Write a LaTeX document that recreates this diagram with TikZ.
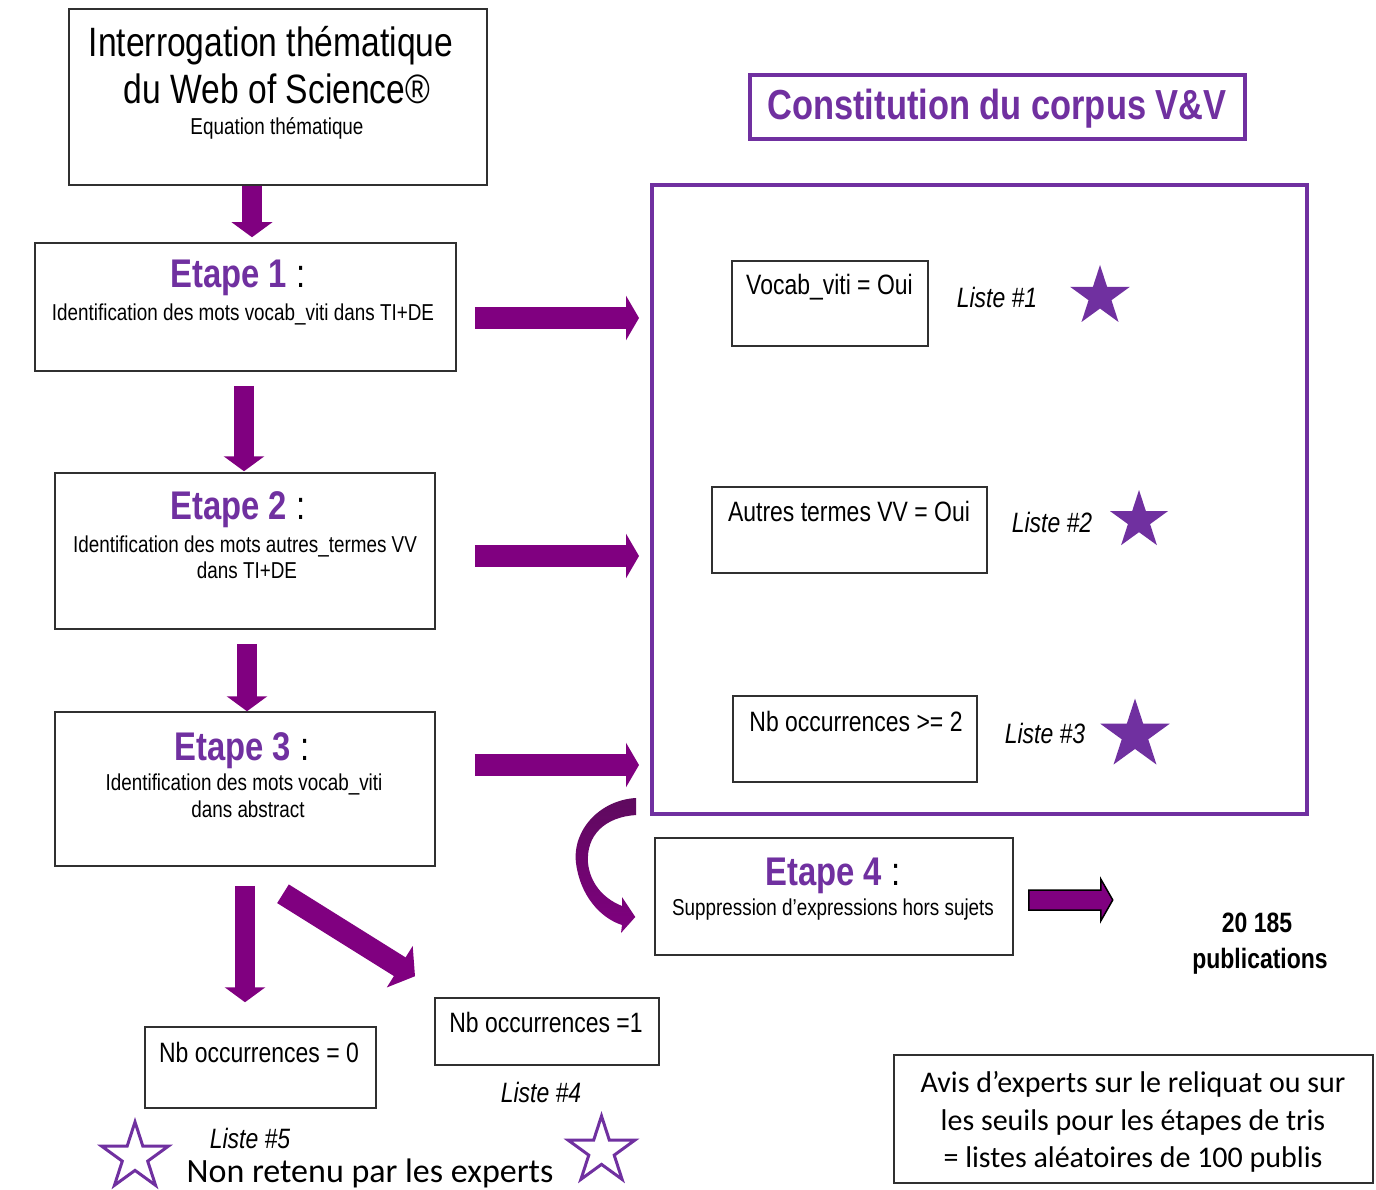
\documentclass[tikz,border=0pt]{standalone}
\usepackage{fontspec}
\setmainfont{Liberation Sans}[FakeStretch=0.82]
\newfontfamily\calfont{Carlito}
\usetikzlibrary{arrows.meta,shapes.geometric,calc}
\definecolor{arrowpurple}{HTML}{800080}
\definecolor{arrowdark}{HTML}{5E0A5E}
\definecolor{titlepurple}{HTML}{7030A0}
\definecolor{boxline}{HTML}{303030}
\newcommand\fsz[1]{\fontsize{#1}{#1}\selectfont}
\newcommand\etape[1]{{\color{titlepurple}\bfseries Etape #1} :}
\begin{document}
\begin{tikzpicture}[x=1pt,y=-1pt,
  box/.style={draw=boxline, line width=1.5pt, inner sep=0pt, rectangle},
  frame/.style={draw=titlepurple, line width=4pt, inner sep=0pt, rectangle},
  txt/.style={inner sep=0pt, anchor=base},
  small/.style={txt, font=\fsz{23}},
  mid/.style={txt, font=\fsz{28}},
  lst/.style={txt, font=\fsz{28}\itshape},
  big/.style={txt, font=\fsz{40}},
  varrow/.style={draw=arrowpurple, line width=20pt, -{Triangle[width=40pt,length=15pt]}},
  harrow/.style={draw=arrowpurple, line width=22pt, -{Triangle[width=44pt,length=13pt]}},
  darrow/.style={draw=arrowpurple, line width=22pt, -{Triangle[width=48pt,length=18pt]}},
  curvearrow/.style={top color=arrowdark, bottom color=arrowpurple, draw=none},
  fstar/.style={star, star points=5, star point ratio=2.618, inner sep=0pt, fill=titlepurple, draw=none},
  ostar/.style={star, star points=5, star point ratio=2.618, inner sep=0pt, draw=titlepurple, line width=3pt, fill=white},
  outarrow/.style={draw=black, line width=1.5pt, fill=arrowpurple, line join=miter}
]
\useasboundingbox (0,0) rectangle (1376,1190);
\fill[white] (0,0) rectangle (1376,1190);

% ---- boxes
\node[box, minimum width=418, minimum height=176] (q) at (278,97) {};
\node[box, minimum width=421, minimum height=128] (e1) at (245.5,307) {};
\node[box, minimum width=380, minimum height=156] (e2) at (245,551) {};
\node[box, minimum width=380, minimum height=154] (e3) at (245,789) {};
\node[box, minimum width=231, minimum height=81] (n0) at (260.5,1067.5) {};
\node[box, minimum width=224, minimum height=67] (n1) at (547,1031.5) {};
\node[frame, minimum width=655, minimum height=629] (bigbox) at (979.5,499.5) {};
\node[frame, minimum width=495, minimum height=64] (title) at (997.5,107) {};
\node[box, minimum width=196, minimum height=85] (v1) at (830,303.5) {};
\node[box, minimum width=275, minimum height=86] (v2) at (849.5,530) {};
\node[box, minimum width=244, minimum height=86] (v3) at (855,739) {};
\node[box, minimum width=358, minimum height=117] (e4) at (834,896.5) {};
\node[box, minimum width=479, minimum height=128] (avis) at (1133.5,1119) {};

% ---- texts
\node[txt, font=\fsz{41}] (qt1) at (271,57) {Interrogation thématique};
\node[txt, font=\fsz{41}] (qt2) at (277,104) {du Web of Science®};
\node[small] (qt3) at (277,135) {Equation thématique};

\node[big] (e1t) at (238,288) {\etape{1}};
\node[small] (e1s) at (243,320) {Identification des mots vocab\_viti dans TI+DE};

\node[big] (e2t) at (238,519) {\etape{2}};
\node[small] (e2s) at (245,552) {Identification des mots autres\_termes VV};
\node[small] (e2u) at (247,578) {dans TI+DE};

\node[big] (e3t) at (242,760) {\etape{3}};
\node[small] (e3s) at (244,790) {Identification des mots vocab\_viti};
\node[small] (e3u) at (248,817) {dans abstract};

\node[big] (e4t) at (833,885) {\etape{4}};
\node[small] (e4s) at (833,915) {Suppression d’expressions hors sujets};

\node[txt, font=\fsz{42}\bfseries, text=titlepurple] (tt) at (997,120) {Constitution du corpus V\&V};

\node[mid] (v1t) at (829.5,295) {Vocab\_viti = Oui};
\node[mid] (v2t) at (849,521) {Autres termes VV = Oui};
\node[mid] (v3t) at (856,731) {Nb occurrences >= 2};
\node[lst] (l1) at (997,308) {Liste \#1};
\node[lst] (l2) at (1052,532) {Liste \#2};
\node[lst] (l3) at (1045,743) {Liste \#3};

\node[mid] (n0t) at (259,1062) {Nb occurrences = 0};
\node[mid] (n1t) at (546,1032) {Nb occurrences =1};
\node[lst] (l4) at (541,1102) {Liste \#4};
\node[lst] (l5) at (250,1148) {Liste \#5};
\node[txt, font=\calfont\fsz{34}] (nr) at (370,1182) {Non retenu par les experts};

\node[txt, font=\fsz{28}\bfseries] (pub1) at (1257,932) {20 185};
\node[txt, font=\fsz{28}\bfseries] (pub2) at (1260,968) {publications};

\node[txt, font=\calfont\fsz{30}] (av1) at (1133,1092) {Avis d’experts sur le reliquat ou sur};
\node[txt, font=\calfont\fsz{30}] (av2) at (1133,1130) {les seuils pour les étapes de tris};
\node[txt, font=\calfont\fsz{30}] (av3) at (1133,1167) {= listes aléatoires de 100 publis};

% ---- stars
\node[fstar, minimum size=63] (s1) at (1100,296.5) {};
\node[fstar, minimum size=61] (s2) at (1139,520.5) {};
\node[fstar, minimum size=73] (s3) at (1135,735) {};
\node[ostar, minimum size=70] (s5) at (135,1157) {};
\node[ostar, minimum size=70] (s4) at (601.5,1151) {};

% ---- vertical arrows
\draw[varrow] ([xshift=-26pt]q.south) -- ([xshift=6.5pt,yshift=5pt]e1.north);
\draw[varrow] ([xshift=-1.5pt,yshift=-14pt]e1.south) -- ([xshift=-1pt,yshift=1pt]e2.north);
\draw[varrow] ([xshift=2pt,yshift=-14pt]e2.south) -- ([xshift=2pt]e3.north);
\draw[varrow] ([xshift=0pt,yshift=-19pt]e3.south) -- ([xshift=-15.5pt,yshift=24pt]n0.north);
\draw[darrow] ([xshift=38pt,yshift=-27pt]e3.south) -- ([xshift=-132pt,yshift=21pt]n1.north);

% ---- horizontal arrows into the corpus frame
\path ([xshift=18pt,yshift=-11pt]e1.east) coordinate (h1)
      ([xshift=39pt,yshift=-5pt]e2.east) coordinate (h2)
      ([xshift=39pt,yshift=24pt]e3.east) coordinate (h3);
\draw[harrow] (h1) -- ($(h1 -| bigbox.west)+(-11,0)$);
\draw[harrow] (h2) -- ($(h2 -| bigbox.west)+(-11,0)$);
\draw[harrow] (h3) -- ($(h3 -| bigbox.west)+(-11,0)$);

% ---- curved block arrow from the corpus frame to Etape 4
\path[curvearrow] (636,798) .. controls (600,800) and (572,830) .. (576,863)
   .. controls (580,895) and (600,918) .. (622,925)
   -- (621,933) -- ($(e4.west)+(-19,20.5)$) -- (622,897) -- (622,906)
   .. controls (602,898) and (590,882) .. (588,863)
   .. controls (586,835) and (605,817) .. (636,815) -- cycle;

% ---- outlined arrow towards the result
\draw[outarrow] ($(e4.east)+(15,-6.5)$) coordinate (oa) -- ++(72,0) -- ++(0,-11) -- ++(12,21) -- ++(-12,21) -- ++(0,-11) -- ++(-72,0) -- cycle;
\end{tikzpicture}
\end{document}
